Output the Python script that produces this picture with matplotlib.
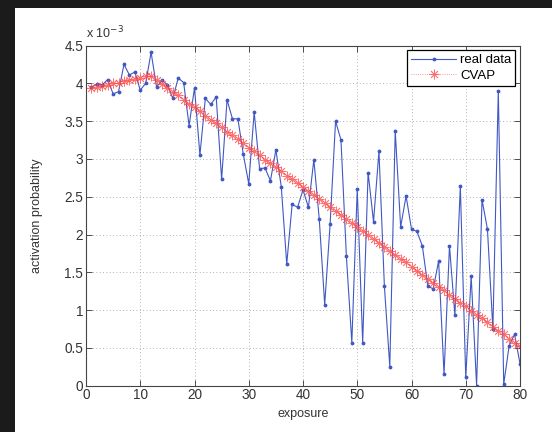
import numpy as np
import matplotlib
matplotlib.use('Agg')
import matplotlib.pyplot as plt
from matplotlib.patches import Rectangle

# exposure steps
exposure = list(range(1, 81))

# measured activation probability (x 10^-3)
real_data = [3.95, 3.99, 3.98, 4.05, 3.86, 3.89, 4.25, 4.11, 4.15, 3.91,
             4.00, 4.41, 3.95, 4.04, 3.98, 3.80, 4.07, 4.01, 3.44, 3.94,
             3.05, 3.80, 3.72, 3.82, 2.73, 3.78, 3.53, 3.53, 3.06, 2.67,
             3.62, 2.87, 2.88, 2.71, 3.12, 2.63, 1.61, 2.40, 2.36, 2.59,
             2.36, 2.99, 2.20, 1.07, 2.14, 3.50, 3.25, 1.71, 0.57, 2.60,
             0.57, 2.82, 2.17, 3.10, 1.32, 0.25, 3.37, 2.10, 2.51, 2.07,
             2.04, 1.85, 1.32, 1.28, 1.65, 0.15, 1.85, 0.93, 2.64, 0.11,
             1.45, 0.00, 2.46, 2.07, 0.75, 3.90, 0.02, 0.53, 0.68, 0.29]

# CVAP model (x 10^-3)
cvap = [3.94, 3.95, 3.97, 3.98, 4.00, 4.01, 4.03, 4.04, 4.06, 4.07,
        4.09, 4.10, 4.05, 3.99, 3.94, 3.89, 3.84, 3.78, 3.73, 3.68,
        3.63, 3.57, 3.52, 3.47, 3.42, 3.36, 3.31, 3.26, 3.21, 3.15,
        3.10, 3.05, 2.99, 2.94, 2.89, 2.84, 2.78, 2.73, 2.68, 2.63,
        2.57, 2.52, 2.47, 2.42, 2.36, 2.31, 2.26, 2.20, 2.15, 2.10,
        2.05, 1.99, 1.94, 1.89, 1.84, 1.78, 1.73, 1.68, 1.63, 1.57,
        1.52, 1.47, 1.41, 1.36, 1.31, 1.26, 1.20, 1.15, 1.10, 1.05,
        0.99, 0.94, 0.89, 0.84, 0.78, 0.73, 0.68, 0.62, 0.57, 0.52]

xticks = list(range(0, 81, 10))
yticks = [0, 0.5, 1, 1.5, 2, 2.5, 3, 3.5, 4, 4.5]

plt.rcParams['font.family'] = ['Liberation Sans', 'DejaVu Sans']

fig = plt.figure(figsize=(5.52, 4.32), dpi=100, facecolor='white')
# dark slide border on the left and top
fig.add_artist(Rectangle((0, 0), 15 / 552, 1, transform=fig.transFigure,
                         facecolor='#1b1b1b', edgecolor='none', zorder=0))
fig.add_artist(Rectangle((0, 1 - 8 / 432), 1, 8 / 432, transform=fig.transFigure,
                         facecolor='#1b1b1b', edgecolor='none', zorder=0))

ax = fig.add_axes([86 / 552, 1 - 385.7 / 432, 434 / 552, 340.2 / 432])
ax.plot(exposure, real_data, '-', color='#4058c4', lw=0.8, marker='.', ms=3.5,
        label='real data')
ax.plot(exposure, cvap, ':', color='#ff4646', lw=0.6, marker=(8, 2, 0), ms=7,
        mew=0.6, alpha=0.75, label='CVAP')

ax.set_xlim(0, 80)
ax.set_ylim(0, 4.5)
ax.set_xticks(xticks)
ax.set_yticks(yticks)
ax.set_yticklabels(['%g' % t for t in yticks])
ax.tick_params(direction='in', length=4, width=0.6, top=True, right=True,
               labelsize=9.8, colors='#333333', pad=2)
ax.grid(True, ls=(0, (1, 3)), color='#999999', lw=0.6)
for s in ax.spines.values():
    s.set_color('#444444')
    s.set_linewidth(0.8)

ax.set_xlabel('exposure', fontsize=9, color='#333333', labelpad=4)
ax.set_ylabel('activation probability', fontsize=9, color='#333333', labelpad=15)
ax.text(0, 1.012, r'x 10$^{-3}$', transform=ax.transAxes, fontsize=9,
        color='#333333', ha='left', va='bottom')

leg = ax.legend(loc='upper right', fontsize=9.5, fancybox=False, framealpha=1,
                edgecolor='black', handlelength=3.4, borderaxespad=0.35,
                borderpad=0.3, labelspacing=0.25, handletextpad=0.3)
leg.get_frame().set_linewidth(0.9)

fig.savefig('out.png', dpi=100, facecolor=fig.get_facecolor())
